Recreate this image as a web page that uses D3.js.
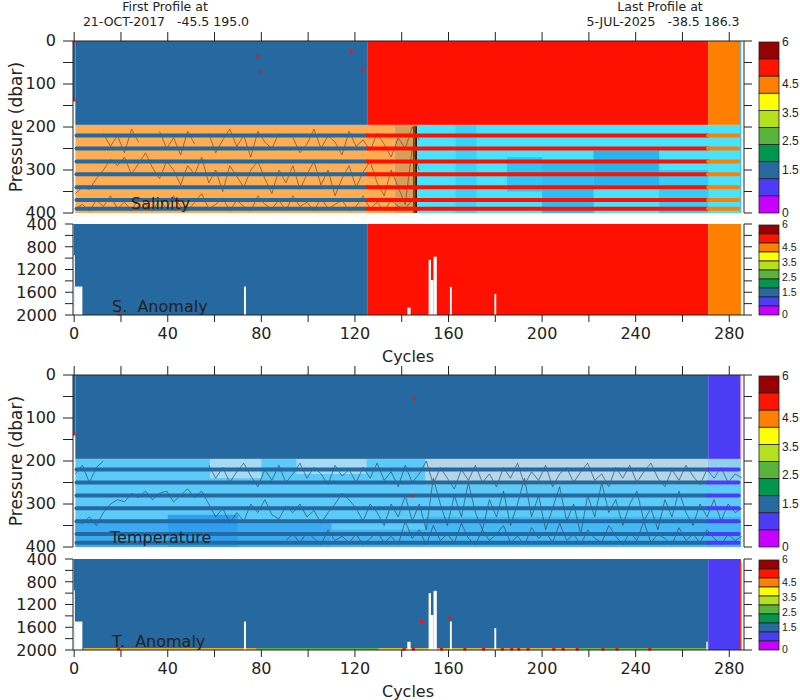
<!DOCTYPE html>
<html><head><meta charset="utf-8">
<script src="https://cdn.jsdelivr.net/npm/d3@7"></script>
<style>
body{margin:0;background:#fff}
text{font-family:"DejaVu Sans",sans-serif;fill:#222}
text.cb{font-family:"Liberation Sans",Arial,sans-serif}
</style>
</head><body>
<svg id="c" width="800" height="700"></svg>
<script>
// ---------------- data ----------------
const cycleTicks = [0,20,40,60,80,100,120,140,160,180,200,220,240,260,280];
const cycleLabels = [0,40,80,120,160,200,240,280];
const topPressureLabels = [0,100,200,300,400];
const topPressureTicks = [0,50,100,150,200,250,300,350,400];
const anomPressureLabels = [400,800,1200,1600,2000];
const anomPressureTicks = [400,600,800,1000,1200,1400,1600,1800,2000];
const cbarLabelValues = [6,4.5,3.5,2.5,1.5,0];
const cbarLabels = ["6","4.5","3.5","2.5","1.5","0"];
const cbarColors = ["#960000","#ff1400","#ff8000","#ffff00","#b4e01e","#5ab43c","#009650","#2869a0","#4b3cf5","#c800ff"];

const salFlagSegments  = [[0.5,125.5,"#2569a0"],[125.5,271,"#ff1000"],[271,285,"#ff8000"]];
const tempFlagSegments = [[0.5,271,"#2569a0"],[271,285,"#4b3cf5"]];
const salStripeSegments  = [[1,125.5,"#2569a0"],[125.5,271,"#ff1000"],[271,284,"#ff8000"]];
const tempStripeSegments = [[1,271,"#2569a0"],[271,284,"#4b3cf5"]];
const mixedLayerBase = 195;
const firstProfileMaxP = 140;
const stripePressures = [220,250,280,310,340,370,390];

// background fields below the mixed layer: [cycleFrom, cycleTo, pFrom, pTo, colour]
const salField = [
  [0.5,137,195,400,"#ffad52"],
  [137,146.5,195,400,"#d4a05a"],
  [146.5,285,195,400,"#46e4ff"],
  [163,172,195,400,"#34d4fb"],
  [185,200,270,350,"#2cc6f7"],
  [200,222,280,400,"#2abef4"],
  [222,250,255,335,"#24b6f1"],
  [250,271,300,400,"#34cdf8"]
];
const tempField = [
  [0.5,285,195,400,"#5bcaf8"],
  [0.5,40,340,400,"#3aaaf2"],
  [40,70,325,400,"#2e9ff0"],
  [70,110,345,400,"#3aaaf2"],
  [110,150,360,400,"#44b4f4"],
  [58,80,195,240,"#a6daf0"],
  [95,125,195,230,"#a6daf0"],
  [150,271,195,255,"#b6d6e6"],
  [150,285,330,400,"#44b8f5"],
  [271,285,195,255,"#8fd0f0"]
];

// contour lines: pressure sampled every 3 cycles (null = no line)
const salContours = [
  [355,340,345,320,300,275,290,270,310,285,260,295,320,280,300,335,290,310,270,330,300,350,290,315,340,300,280,320,355,300,330,290,345,310,280,335,300,360,320,290,340,305,280,330,360,300,340,380,250,300],
  [240,null,null,null,215,245,220,260,205,235,null,null,210,250,225,265,210,240,null,215,260,230,205,245,220,270,210,235,250,215,null,225,260,240,205,250,220,235,265,210,245,230,255,215,240,270,225,250,200,230],
  [390,380,395,370,385,360,390,375,395,365,380,395,370,390,360,385,395,375,355,390,380,365,395,370,385,395,360,380,390,370,395,360,385,375,395,365,390,380,370,395,385,360,390,375,395,370,385,390,370,395]
];
const tempContours = [
  [340,345,330,350,320,300,290,295,275,285,270,290,275,270,295,280,265,285,270,300,330,310,345,320,340,300,320,290,325,335,305,320,300,330,315,345,320,300,275,290,310,340,300,320,350,300,330,280,340,300,360,240,300,350,280,330,250,320,360,290,330,270,350,300,240,330,280,360,310,260,340,300,370,280,330,250,320,290,350,300,270,340,310,360,290,330,270,320,350,300,330,290,340,300,320,310],
  [230,210,250,215,200,null,null,null,null,null,null,null,null,null,null,null,null,null,null,210,240,215,250,225,205,235,260,220,245,210,250,230,205,240,215,230,255,210,235,220,250,215,240,205,245,225,260,210,250,230,200,255,215,240,265,220,245,210,250,230,260,215,240,205,255,225,245,210,260,230,215,250,225,205,245,230,260,215,240,210,250,225,205,240,260,220,245,210,235,255,220,240,215,250,230,240],
  [null,null,null,null,null,null,null,null,null,null,null,null,null,null,null,null,null,null,null,null,null,null,null,null,null,null,null,null,null,null,385,370,390,365,380,395,360,385,375,390,370,395,380,365,390,375,395,340,380,360,395,350,385,370,390,345,380,395,360,385,370,350,390,375,395,355,380,365,390,345,385,370,395,360,380,390,350,375,395,365,385,340,390,370,380,395,355,385,370,390,360,380,395,370,385,375]
];

const salTopDots  = [[0,3],[0,137],[78.5,36],[79.5,73],[118.4,25],[123.4,67]];
const tempTopDots = [[0,137],[145.3,56],[144.6,281]];

// anomaly gaps (no data): [cycleFrom, cycleTo, pFrom, pTo]
const salAnomGaps = [[-0.5,0.3,950,2000],[0.3,3.5,1500,2000],[72.6,73.4,1500,2000],[142.4,143.8,1870,2000],
  [151.5,152.5,1030,2000],[152.5,153.6,1385,2000],[153.6,155,975,2000],[160.6,161.4,1505,2000],[179.6,180.4,1630,2000]];
const tempAnomGaps = [[-0.5,0.3,950,2000],[0.3,3.5,1500,2000],[72.6,73.4,1500,2000],[142.4,143.8,1855,2000],
  [151.5,152.5,1000,2000],[152.5,153.6,1385,2000],[153.6,155,960,2000],[160.6,161.4,1500,2000],[179.6,180.4,1615,2000],[270.2,270.8,1855,2000]];
const salAnomDots  = [[19,2000]];
const tempAnomDots = [[19,2000],[148.5,1520],[160.7,1455],[141,2000],[145,2000],[157,2000],[167,2000],[175,2000],[183,2000],[187,2000],[190,2000],[194,2000],[205,2000],[209,2000],[215,2000],[226,2000],[232,2000],[246,2000]];
const tempBottomSegments = [[4,78,"#e8b22e"],[78,130,"#5ab43c"],[130,170,"#d8c23a"],[170,215,"#e2b83a"],[215,271,"#6abb3e"]];

// ---------------- drawing ----------------
const svg = d3.select("#c");
const x = d3.scaleLinear().domain([-0.5, 286.3]).range([73, 744]);
const X0 = 73, X1 = 744;

const panels = [
  {title:"Salinity", anomTitle:"S.  Anomaly", top:[41,213], anom:[224,315], field:salField, contours:salContours,
   flags:salFlagSegments, stripes:salStripeSegments, dots:salTopDots, gaps:salAnomGaps, anomDots:salAnomDots,
   endLine:"#3fc0ff", titleX:131, anomTitleX:112, bottomSegs:null, cstroke:"#5e4426"},
  {title:"Temperature", anomTitle:"T.  Anomaly", top:[375,547], anom:[559,650], field:tempField, contours:tempContours,
   flags:tempFlagSegments, stripes:tempStripeSegments, dots:tempTopDots, gaps:tempAnomGaps, anomDots:tempAnomDots,
   endLine:"#f090c0", titleX:110, anomTitleX:112, bottomSegs:tempBottomSegments, cstroke:"#2c3e4e"}
];

panels.forEach((P,i)=>{
  const y = d3.scaleLinear().domain([0,400]).range(P.top);
  const ya = d3.scaleLinear().domain([400,2000]).range(P.anom);
  const g = svg.append("g");
  const clipId = "clip"+i;
  svg.append("clipPath").attr("id",clipId).append("rect")
    .attr("x",X0).attr("y",P.top[0]).attr("width",X1-X0).attr("height",P.top[1]-P.top[0]+1);
  const gt = g.append("g").attr("clip-path",`url(#${clipId})`);

  gt.selectAll(".f").data(P.field).join("rect")
    .attr("x",d=>x(d[0])).attr("width",d=>x(d[1])-x(d[0]))
    .attr("y",d=>y(d[2])).attr("height",d=>y(d[3])-y(d[2])).attr("fill",d=>d[4]);
  const line = d3.line().defined(d=>d[1]!=null).x(d=>x(d[0])).y(d=>y(d[1]));
  P.contours.forEach(arr=>{
    const pts = arr.map((v,k)=>[k*3+0.5, v]);
    gt.append("path").attr("d",line(pts)).attr("fill","none")
      .attr("stroke", P.cstroke).attr("stroke-width",0.8).attr("opacity",0.8);
  });
  if(i===0){
    [145.2,145.8,146.3].forEach(c=>{
      gt.append("line").attr("x1",x(c)).attr("x2",x(c)).attr("y1",y(198)).attr("y2",y(400))
        .attr("stroke","#2a1a08").attr("stroke-width",1);
    });
  }
  gt.selectAll(".m").data(P.flags).join("rect")
    .attr("x",d=>x(d[0])).attr("width",d=>x(d[1])-x(d[0]))
    .attr("y",y(0)).attr("height",y(mixedLayerBase)-y(0)).attr("fill",d=>d[2]);
  gt.append("rect").attr("x",x(-0.5)).attr("width",x(0.5)-x(-0.5))
    .attr("y",y(0)).attr("height",y(firstProfileMaxP)-y(0)).attr("fill",P.flags[0][2]);
  stripePressures.forEach(p=>{
    P.stripes.forEach(s=>{
      gt.append("line").attr("x1",x(s[0])).attr("x2",x(s[1])).attr("y1",y(p)).attr("y2",y(p))
        .attr("stroke",s[2]).attr("stroke-width",4).attr("stroke-linecap","round");
    });
  });
  gt.append("line").attr("x1",x(284.9)).attr("x2",x(284.9)).attr("y1",y(0)).attr("y2",y(i===0?400:195))
    .attr("stroke",P.endLine).attr("stroke-width",1.2);
  gt.selectAll(".d").data(P.dots).join("rect")
    .attr("x",d=>x(d[0])-1.2).attr("y",d=>y(d[1])-1.5).attr("width",2.4).attr("height",3).attr("fill","#ff1000");

  const ga = g.append("g");
  ga.selectAll(".a").data(P.flags).join("rect")
    .attr("x",(d,k)=>x(k===0?-0.2:d[0])).attr("width",(d,k)=>x(d[1])-x(k===0?-0.2:d[0]))
    .attr("y",ya(400)).attr("height",ya(2000)-ya(400)).attr("fill",d=>d[2]);
  if(P.bottomSegs){
    ga.selectAll(".bs").data(P.bottomSegs).join("rect")
      .attr("x",d=>x(d[0])).attr("width",d=>x(d[1])-x(d[0]))
      .attr("y",ya(2000)-2).attr("height",2).attr("fill",d=>d[2]);
    ga.append("line").attr("x1",x(284.9)).attr("x2",x(284.9)).attr("y1",ya(450)).attr("y2",ya(2000))
      .attr("stroke","#ff3010").attr("stroke-width",1.5);
  }
  ga.selectAll(".gp").data(P.gaps).join("rect")
    .attr("x",d=>x(d[0])).attr("width",d=>x(d[1])-x(d[0]))
    .attr("y",d=>ya(d[2])).attr("height",d=>ya(d[3])-ya(d[2])+1).attr("fill","#fff");
  ga.selectAll(".ad").data(P.anomDots).join("rect")
    .attr("x",d=>x(d[0])-1.5).attr("y",d=>ya(d[1])-2.5).attr("width",3).attr("height",3).attr("fill","#ff1000");

  const ax = g.append("g").attr("stroke","#222").attr("stroke-width",1).attr("fill","none");
  ax.append("path").attr("d",`M${X0},${P.top[1]}V${P.top[0]}H${X1}V${P.top[1]}`);
  ax.append("path").attr("d",`M${X0},${P.anom[0]}V${P.anom[1]}H${X1}V${P.anom[0]}`);
  cycleTicks.forEach(c=>{
    ax.append("line").attr("x1",x(c)).attr("x2",x(c)).attr("y1",P.top[0]).attr("y2",P.top[0]-9);
    ax.append("line").attr("x1",x(c)).attr("x2",x(c)).attr("y1",P.anom[1]).attr("y2",P.anom[1]+7);
  });
  topPressureTicks.forEach(p=>{
    ax.append("line").attr("x1",X0).attr("x2",X0-10).attr("y1",y(p)).attr("y2",y(p));
    ax.append("line").attr("x1",X1).attr("x2",X1+8).attr("y1",y(p)).attr("y2",y(p));
  });
  anomPressureTicks.forEach(p=>{
    ax.append("line").attr("x1",X0).attr("x2",X0-8).attr("y1",ya(p)).attr("y2",ya(p));
    ax.append("line").attr("x1",X1).attr("x2",X1+8).attr("y1",ya(p)).attr("y2",ya(p));
  });
  topPressureLabels.forEach(p=>{
    g.append("text").attr("x",56).attr("y",y(p)).attr("dy","0.34em").attr("text-anchor","end")
      .style("font-size","16px").text(p);
  });
  anomPressureLabels.forEach(p=>{
    g.append("text").attr("x",57).attr("y",ya(p)).attr("dy","0.36em").attr("text-anchor","end")
      .style("font-size","16px").text(p);
  });
  cycleLabels.forEach(c=>{
    g.append("text").attr("x",x(c)).attr("y",P.anom[1]+24).attr("text-anchor","middle")
      .style("font-size","16px").text(c);
  });
  g.append("text").attr("x",408).attr("y",P.anom[1]+47).attr("text-anchor","middle")
    .style("font-size","16px").text("Cycles");
  g.append("text").attr("transform",`translate(22,${(P.top[0]+P.top[1])/2}) rotate(-90)`)
    .attr("text-anchor","middle").style("font-size","17px").text("Pressure (dbar)");
  g.append("text").attr("x",P.titleX).attr("y",P.top[1]-4).style("font-size","16px").text(P.title);
  g.append("text").attr("x",P.anomTitleX).attr("y",P.anom[1]-3).style("font-size","16px")
    .style("white-space","pre").text(P.anomTitle);

  const drawBar = (r0,r1,fs)=>{
    const cy = d3.scaleLinear().domain([6,0]).range([r0,r1]);
    const step = 0.6;
    const vals = d3.range(10).map(k=>6-k*step);
    g.selectAll(null).data(vals).join("rect")
      .attr("x",759).attr("width",20).attr("y",v=>cy(v)).attr("height",v=>cy(v-step)-cy(v))
      .attr("fill",(v,k)=>cbarColors[k]).attr("stroke","#222").attr("stroke-width",0.8);
    cbarLabelValues.forEach((v,k)=>{
      g.append("text").attr("class","cb").attr("x",782).attr("y",cy(v)).attr("dy","0.3em")
        .style("font-size",fs).text(cbarLabels[k]);
    });
  };
  drawBar(P.top[0]+1,P.top[1],"12px");
  drawBar(P.anom[0]+1,P.anom[1],"10.5px");
});

const header = svg.append("g");
header.append("text").attr("x",165).attr("y",11).attr("text-anchor","middle").style("font-size","12.5px").text("First Profile at");
header.append("text").attr("x",166).attr("y",26).attr("text-anchor","middle").style("font-size","12.5px")
  .style("white-space","pre").text("21-OCT-2017   -45.5 195.0");
header.append("text").attr("x",660).attr("y",11).attr("text-anchor","middle").style("font-size","12.5px").text("Last Profile at");
header.append("text").attr("x",663).attr("y",26).attr("text-anchor","middle").style("font-size","12.5px")
  .style("white-space","pre").text("5-JUL-2025   -38.5 186.3");
</script>
</body></html>
